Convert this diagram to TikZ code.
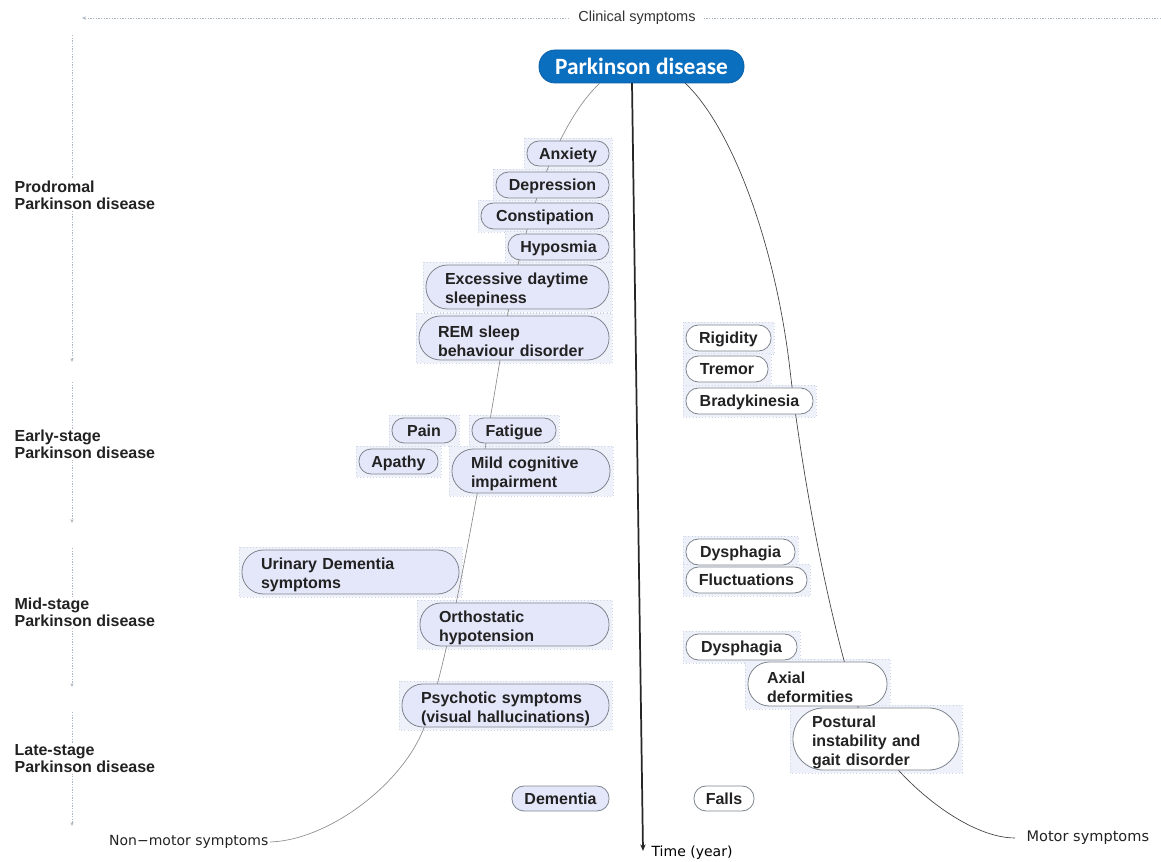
\documentclass[tikz,border=0pt]{standalone}
\usepackage{fontspec}
\setmainfont{Liberation Sans}
\newfontfamily\pdfont{Carlito}
\newfontfamily\djv{DejaVu Sans}
\usetikzlibrary{arrows.meta}
\definecolor{pdblue}{HTML}{0B6FC0}
\definecolor{pdborder}{HTML}{0A5EA6}
\definecolor{nmfill}{HTML}{E4E7F9}
\definecolor{nmborder}{HTML}{7E858E}
\definecolor{halofill}{HTML}{EEF1F9}
\definecolor{haloline}{HTML}{CCD5E6}
\definecolor{textc}{HTML}{222222}
\definecolor{axisc}{HTML}{AEB8C4}
\newcommand\symone[7]{%
  \pgfmathsetlengthmacro\symw{(#5-#3)*0.75pt}%
  \pgfmathsetlengthmacro\symh{(#6-#4)*0.75pt}%
  \pgfmathsetlengthmacro\symr{(#6-#4)*0.375pt-0.4pt}%
  \node[#2, text height=8.6pt, text depth=0pt, minimum width=\symw, minimum height=\symh, rounded corners=\symr] (#1) at ({(#3+#5)/2},{(#4+#6)/2}) {#7};}
\newcommand\symmulti[7]{%
  \pgfmathsetlengthmacro\symw{(#5-#3)*0.75pt}%
  \pgfmathsetlengthmacro\symh{(#6-#4)*0.75pt}%
  \pgfmathsetlengthmacro\symr{(#6-#4)*0.375pt-0.4pt}%
  \pgfmathsetlengthmacro\symt{(#5-#3-38)*0.75pt}%
  \node[#2, minimum width=\symw, minimum height=\symh, rounded corners=\symr] (#1) at ({(#3+#5)/2},{(#4+#6)/2}) {};
  \node[#2, draw=none, fill=none, align=left, text width=\symt] (#1-t) at ([yshift=-2.3pt]#1.center) {#7};}
\newcommand\symhalo[4]{\draw[halo] (#1-3,#2-3) rectangle (#3+3,#4+3);}
\begin{document}
\begin{tikzpicture}[x=0.75pt,y=-0.75pt,
  halo/.style={fill=halofill, draw=haloline, dotted, line width=0.4pt},
  nm/.style={draw=nmborder, fill=nmfill, line width=0.6pt, text=textc,
    font=\bfseries\fontsize{12}{14.3}\selectfont, inner xsep=0pt, inner ysep=0pt},
  mo/.style={nm, fill=white},
  stage/.style={font=\bfseries\fontsize{12}{12.8}\selectfont, align=left, anchor=west,
    fill=white, inner sep=1pt, text=textc},
  vline/.style={draw=axisc, dash pattern=on 1pt off 1pt, line width=0.5pt,
    -{Stealth[length=3pt,width=2.5pt]}},
  nmline/.style={draw=black!45, line width=0.5pt},
  moline/.style={draw=black!75, line width=0.5pt},
  tarrow/.style={draw=black!85, line width=1.3pt, -{Stealth[length=5pt,width=4pt]}},
  lbl/.style={font=\djv\fontsize{10.5}{12}\selectfont, text=textc, inner sep=1pt}
]
\useasboundingbox (0,0) rectangle (1161,862);

% top axis
\coordinate (topR) at (1161,18);
\coordinate (topL) at (82,18);
\draw[vline] (topR) -- (topL);
\node[fill=white, inner xsep=6pt, inner ysep=1pt, font=\fontsize{10.9}{12}\selectfont, text=black!80] (clin) at (637,18) {Clinical symptoms};

% left stage axis
\coordinate (s1a) at (72,35);  \coordinate (s1b) at (72,362);
\coordinate (s2a) at (72,382); \coordinate (s2b) at (72,523);
\coordinate (s3a) at (72,548); \coordinate (s3b) at (72,687);
\coordinate (s4a) at (72,712); \coordinate (s4b) at (72,826);
\draw[vline] (s1a) -- (s1b);
\draw[vline] (s2a) -- (s2b);
\draw[vline] (s3a) -- (s3b);
\draw[vline] (s4a) -- (s4b);
\node[stage] (st1) at (13,195) {Prodromal\\Parkinson disease};
\node[stage] (st2) at (13,444.5) {Early-stage\\Parkinson disease};
\node[stage] (st3) at (13,612.5) {Mid-stage\\Parkinson disease};
\node[stage] (st4) at (13,759) {Late-stage\\Parkinson disease};

% halos
\symhalo{527}{141}{609}{166}
\symhalo{496}{172}{609}{198}
\symhalo{481}{203}{609}{229}
\symhalo{508}{234}{609}{260}
\symhalo{426}{265}{609}{309}
\symhalo{419}{316}{609}{360}
\symhalo{392}{418}{456}{443}
\symhalo{472}{418}{556}{443}
\symhalo{359}{449}{438}{474}
\symhalo{452}{449}{610}{493}
\symhalo{242}{550}{459}{594}
\symhalo{420}{603}{609}{646}
\symhalo{402}{684}{609}{727}
\symhalo{686}{325}{771}{351}
\symhalo{686}{356}{768}{382}
\symhalo{686}{388}{813}{414}
\symhalo{686}{539}{795}{565}
\symhalo{686}{567}{807}{593}
\symhalo{686}{634}{797}{660}
\symhalo{748}{662}{887}{706}
\symhalo{793}{708}{959}{770}

% main node
\node[fill=pdblue, draw=pdborder, line width=0.6pt, text=white, rounded corners=12pt,
  minimum width=205*0.75pt, minimum height=33*0.75pt, inner sep=0pt,
  font=\pdfont\bfseries\fontsize{17.5}{20}\selectfont] (pd) at (641.5,66.5) {Parkinson disease};

% curves
\coordinate (nm0) at (600,83);
\coordinate (mo0) at (685,83);
\coordinate (nmend) at (270,842);
\coordinate (moend) at (1015,838);
\draw[nmline] (nm0) .. controls (560,120) and (525,210) .. (505,330)
  .. controls (490,420) and (455,640) .. (425,725)
  .. controls (405,782) and (330,840) .. (nmend);
\draw[moline] (mo0) .. controls (730,125) and (775,240) .. (790,370)
  .. controls (805,500) and (835,640) .. (858,707)
  .. controls (878,765) and (960,838) .. (moend);

% time arrow
\coordinate (t0) at (632,83);
\coordinate (t1) at (643,851);
\draw[tarrow] (t0) -- (t1);

% non-motor nodes
\symone{anx}{nm}{527}{141}{609}{166}{Anxiety}
\symone{dep}{nm}{496}{172}{609}{198}{Depression}
\symone{con}{nm}{481}{203}{609}{229}{Constipation}
\symone{hyp}{nm}{508}{234}{609}{260}{Hyposmia}
\symmulti{eds}{nm}{426}{265}{609}{309}{Excessive daytime\\sleepiness}
\symmulti{rem}{nm}{419}{316}{609}{360}{REM sleep\\behaviour disorder}
\symone{pain}{nm}{392}{418}{456}{443}{Pain}
\symone{fat}{nm}{472}{418}{556}{443}{Fatigue}
\symone{apa}{nm}{359}{449}{438}{474}{Apathy}
\symmulti{mci}{nm}{452}{449}{610}{493}{Mild cognitive\\impairment}
\symmulti{uri}{nm}{242}{550}{459}{594}{Urinary Dementia\\symptoms}
\symmulti{oh}{nm}{420}{603}{609}{646}{Orthostatic\\hypotension}
\symmulti{psy}{nm}{402}{684}{609}{727}{Psychotic symptoms\\(visual hallucinations)}
\symone{dem}{nm}{512}{786}{609}{811}{Dementia}

% motor nodes
\symone{rig}{mo}{686}{325}{771}{351}{Rigidity}
\symone{tre}{mo}{686}{356}{768}{382}{Tremor}
\symone{bra}{mo}{686}{388}{813}{414}{Bradykinesia}
\symone{dys1}{mo}{686}{539}{795}{565}{Dysphagia}
\symone{flu}{mo}{686}{567}{807}{593}{Fluctuations}
\symone{dys2}{mo}{686}{634}{797}{660}{Dysphagia}
\symmulti{axi}{mo}{748}{662}{887}{706}{Axial\\deformities}
\symmulti{pos}{mo}{793}{708}{959}{770}{Postural\\instability and\\gait disorder}
\symone{fal}{mo}{694}{786}{754}{811}{Falls}

% end labels
\node[lbl, anchor=east] (nml) at (nmend) {Non−motor symptoms};
\node[lbl, anchor=west, font=\djv\fontsize{10.9}{12}\selectfont] (mol) at ([xshift=7.5pt]moend) {Motor symptoms};
\node[lbl, anchor=west, font=\djv\fontsize{10.5}{12}\selectfont, text=black] (time) at (650,853) {Time (year)};
\end{tikzpicture}
\end{document}
